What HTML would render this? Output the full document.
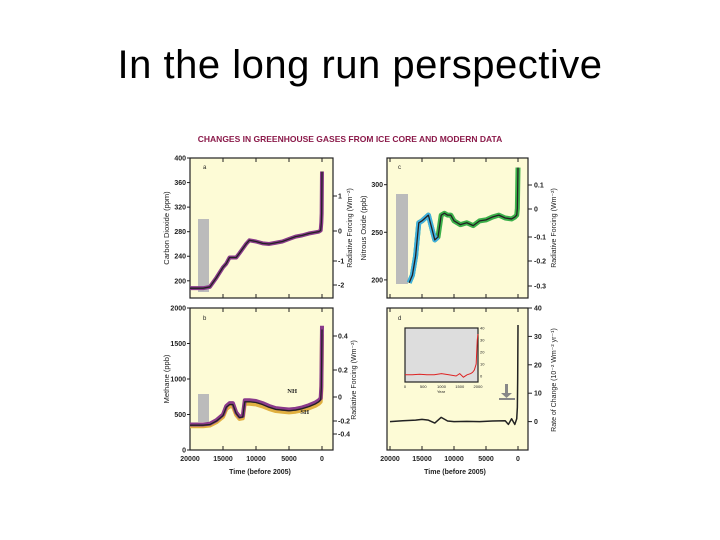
<!DOCTYPE html>
<html><head><meta charset="utf-8"><style>
body{margin:0;width:720px;height:540px;background:#fff;overflow:hidden;font-family:"Liberation Sans",sans-serif}
#title{position:absolute;left:0;top:43px;width:720px;text-align:center;font-size:40px;color:#000;letter-spacing:0.5px}
svg{position:absolute;left:0;top:0}
</style></head><body>
<div id="title">In the long run perspective</div>
<svg id="fig" width="720" height="540"></svg>
<script>
const co2Time=[20000,18000,17000,16000,15000,14500,14000,13000,12500,11500,11000,10000,9000,8000,7000,6000,5000,4000,3000,2000,1000,500,200,100,50,20,0];
const co2Vals=[188,188,190,205,222,228,238,238,245,260,266,264,261,260,262,264,268,272,274,277,279,280,282,295,310,350,378];
const n2oTime=[17000,16500,16000,15500,15000,14000,13500,13000,12500,12000,11500,11000,10500,10000,9000,8000,7000,6000,5000,4000,3000,2000,1000,500,200,100,0];
const n2oVals=[197,205,225,260,262,268,255,242,245,268,270,268,268,262,258,260,257,262,263,266,268,265,264,266,268,275,318];
const ch4Time=[20000,18000,17000,16000,15000,14500,14000,13500,13000,12500,12000,11700,11000,10000,9000,8000,7000,6000,5000,4000,3000,2000,1000,500,200,100,50,0];
const ch4Vals=[360,360,370,420,500,620,660,660,530,470,480,700,700,690,660,620,590,580,570,580,600,630,670,700,730,900,1300,1750];
const rateTime=[20000,18000,16000,15000,14000,13000,12000,11000,10000,8000,6000,4000,2000,1500,1000,500,200,100,50,0];
const rateVals=[0,0.3,0.5,0.8,0.5,-0.5,1.5,0.2,0,0.1,0,0.2,0.3,-1,1,-1,1,5,15,34];
const insetYear=[0,200,400,600,800,1000,1200,1400,1500,1600,1700,1800,1850,1900,1950,1980,2000];
const insetVals=[1,1,1.5,1,1,2,1,0,2,-1,1,2,3,5,10,30,35];
const insetXTicks=[0,500,1000,1500,2000], insetYTicks=[0,10,20,30,40];
const co2Ticks=[200,240,280,320,360,400], n2oTicks=[200,250,300], ch4Ticks=[0,500,1000,1500,2000], rateTicks=[0,10,20,30,40];
const timeTicks=[20000,15000,10000,5000,0];
const S=document.getElementById('fig');const NS='http://www.w3.org/2000/svg';
function el(t,a,p){const e=document.createElementNS(NS,t);for(const k in a)e.setAttribute(k,a[k]);(p||S).appendChild(e);return e;}
function txt(x,y,s,o){const e=el('text',Object.assign({x:x,y:y,'font-size':7,'font-weight':'bold','fill':'#222','text-anchor':'end'},o||{}));e.textContent=s;return e;}
function panel(name,x0,x1,y0,y1,vmin,vmax,ticks,label,xd){
 const g=el('g',{});
 el('rect',{x:x0,y:y0,width:x1-x0,height:y1-y0,fill:'#fdfbd6',stroke:'#222','stroke-width':1.2},g);
 const X=t=>xd[0]+(xd[1]-xd[0])*(20000-t)/20000;
 const Y=v=>y1-(v-vmin)/(vmax-vmin)*(y1-y0);
 ticks.forEach(v=>{const y=Y(v);el('line',{x1:x0-3,x2:x0,y1:y,y2:y,stroke:'#222'},g);txt(x0-4,y+2.5,v,{});});
 timeTicks.forEach(t=>{el('line',{x1:X(t),x2:X(t),y1:y0,y2:y0+4,stroke:'#222'},g);el('line',{x1:X(t),x2:X(t),y1:y1,y2:y1-4,stroke:'#222'},g);});
 if(label)txt(0,0,label,{'text-anchor':'middle','font-weight':'normal','font-size':7.5,transform:`translate(${x0-21},${(y0+y1)/2}) rotate(-90)`});
 return {X,Y,g};
}
function line(p,t,v,c,w){el('polyline',{points:t.map((ti,i)=>p.X(ti)+','+p.Y(v[i])).join(' '),fill:'none',stroke:c,'stroke-width':w,'stroke-linejoin':'round'},p.g);}
const tt=el('text',{x:350,y:142,'text-anchor':'middle','font-size':8.5,'font-weight':'bold',fill:'#8b1a4a'});tt.textContent='CHANGES IN GREENHOUSE GASES FROM ICE CORE AND MODERN DATA';

// a
const a=panel('panel-co2',190,333,158,298,172,400,co2Ticks,'Carbon Dioxide (ppm)',[190,322]);
el('rect',{x:198,y:219,width:11,height:73,fill:'#bbb'},a.g);
line(a,co2Time,co2Vals,'#8a3a8a',4);line(a,co2Time,co2Vals,'#222',1.3);
txt(203,169,'a',{'font-weight':'normal','text-anchor':'start','font-size':6});
// b
const b=panel('panel-ch4',190,333,308,450,0,2000,ch4Ticks,'Methane (ppb)',[190,322]);
el('rect',{x:198,y:394,width:11,height:28,fill:'#bbb'},b.g);
line(b,ch4Time,ch4Vals.map(v=>v*0.93),'#e0b040',4);line(b,ch4Time,ch4Vals,'#8a3a8a',4);line(b,ch4Time,ch4Vals.map(v=>v*0.97),'#222',1.3);
txt(203,320,'b',{'font-weight':'normal','text-anchor':'start','font-size':6});
txt(297,393,'NH',{'font-family':'Liberation Serif','font-size':6.5});txt(309,414,'SH',{'font-family':'Liberation Serif','font-size':6.5});
timeTicks.forEach(t=>txt(b.X(t),461,t,{'text-anchor':'middle'}));
txt(260,474,'Time (before 2005)',{'text-anchor':'middle','font-size':7});
// c
const c=panel('panel-n2o',387,528,158,298,181,328,n2oTicks,'Nitrous Oxide (ppb)',[390,518]);
el('rect',{x:396,y:194,width:12,height:90,fill:'#bbb'},c.g);
line(c,n2oTime,n2oVals,'#3cb04a',5);line(c,n2oTime.slice(0,9),n2oVals.slice(0,9),'#40b0e0',5);line(c,n2oTime,n2oVals,'#222',1.3);
txt(398,169,'c',{'font-weight':'normal','text-anchor':'start','font-size':6});
// d
const d=panel('panel-rate',387,528,308,450,-10,40,[],'',[390,518]);
rateTicks.forEach(v=>{const y=d.Y(v);el('line',{x1:528,x2:532,y1:y,y2:y,stroke:'#222'},d.g);txt(534,y+2.5,v,{'text-anchor':'start'});});
line(d,rateTime,rateVals,'#222',1.5);
txt(398,320,'d',{'font-weight':'normal','text-anchor':'start','font-size':6});
el('rect',{x:405,y:328,width:73,height:54,fill:'#ddd',stroke:'#222','stroke-width':1.2},d.g);
const IX=yr=>405+yr/2000*73, IY=v=>382-(v+5)/45*54;
el('polyline',{points:insetYear.map((y,i)=>IX(y)+','+IY(insetVals[i])).join(' '),fill:'none',stroke:'#d22','stroke-width':1},d.g);
insetXTicks.forEach(v=>txt(IX(v),388,v,{'text-anchor':'middle','font-size':4,'font-weight':'normal'}));
insetYTicks.forEach(v=>txt(480,IY(v)+1.5,v,{'text-anchor':'start','font-size':4,'font-weight':'normal'}));
txt(441,393,'Year',{'text-anchor':'middle','font-size':4,'font-weight':'normal'});
el('rect',{x:505,y:384,width:3,height:9,fill:'#888'},d.g);el('path',{d:'M501,393 L512,393 L506.5,398 Z',fill:'#888'},d.g);
el('rect',{x:499,y:398,width:16,height:2,fill:'#888'},d.g);
timeTicks.forEach(t=>txt(d.X(t),461,t,{'text-anchor':'middle'}));
txt(455,474,'Time (before 2005)',{'text-anchor':'middle','font-size':7});
// right axes
const ra=[[1,196],[0,231],[-1,261],[-2,285]],rc=[['0.1',185],['0',209],['-0.1',237],['-0.2',261],['-0.3',286]],rb=[['0.4',336],['0.2',370],['0',397],['-0.2',421],['-0.4',434]];
ra.forEach(r=>{el('line',{x1:333,x2:337,y1:r[1],y2:r[1],stroke:'#222'});txt(338,r[1]+2.5,r[0],{'text-anchor':'start'});});
rc.forEach(r=>{el('line',{x1:528,x2:532,y1:r[1],y2:r[1],stroke:'#222'});txt(534,r[1]+2.5,r[0],{'text-anchor':'start'});});
rb.forEach(r=>{el('line',{x1:333,x2:337,y1:r[1],y2:r[1],stroke:'#222'});txt(338,r[1]+2.5,r[0],{'text-anchor':'start'});});
[[352,228,'Radiative Forcing (Wm⁻²)'],[356,380,'Radiative Forcing (Wm⁻²)'],[556,228,'Radiative Forcing (Wm⁻²)'],[556,380,'Rate of Change (10⁻² Wm⁻² yr⁻¹)']].forEach(r=>txt(0,0,r[2],{'text-anchor':'middle','font-weight':'normal','font-size':7,transform:`translate(${r[0]},${r[1]}) rotate(-90)`}));
</script>
</body></html>
